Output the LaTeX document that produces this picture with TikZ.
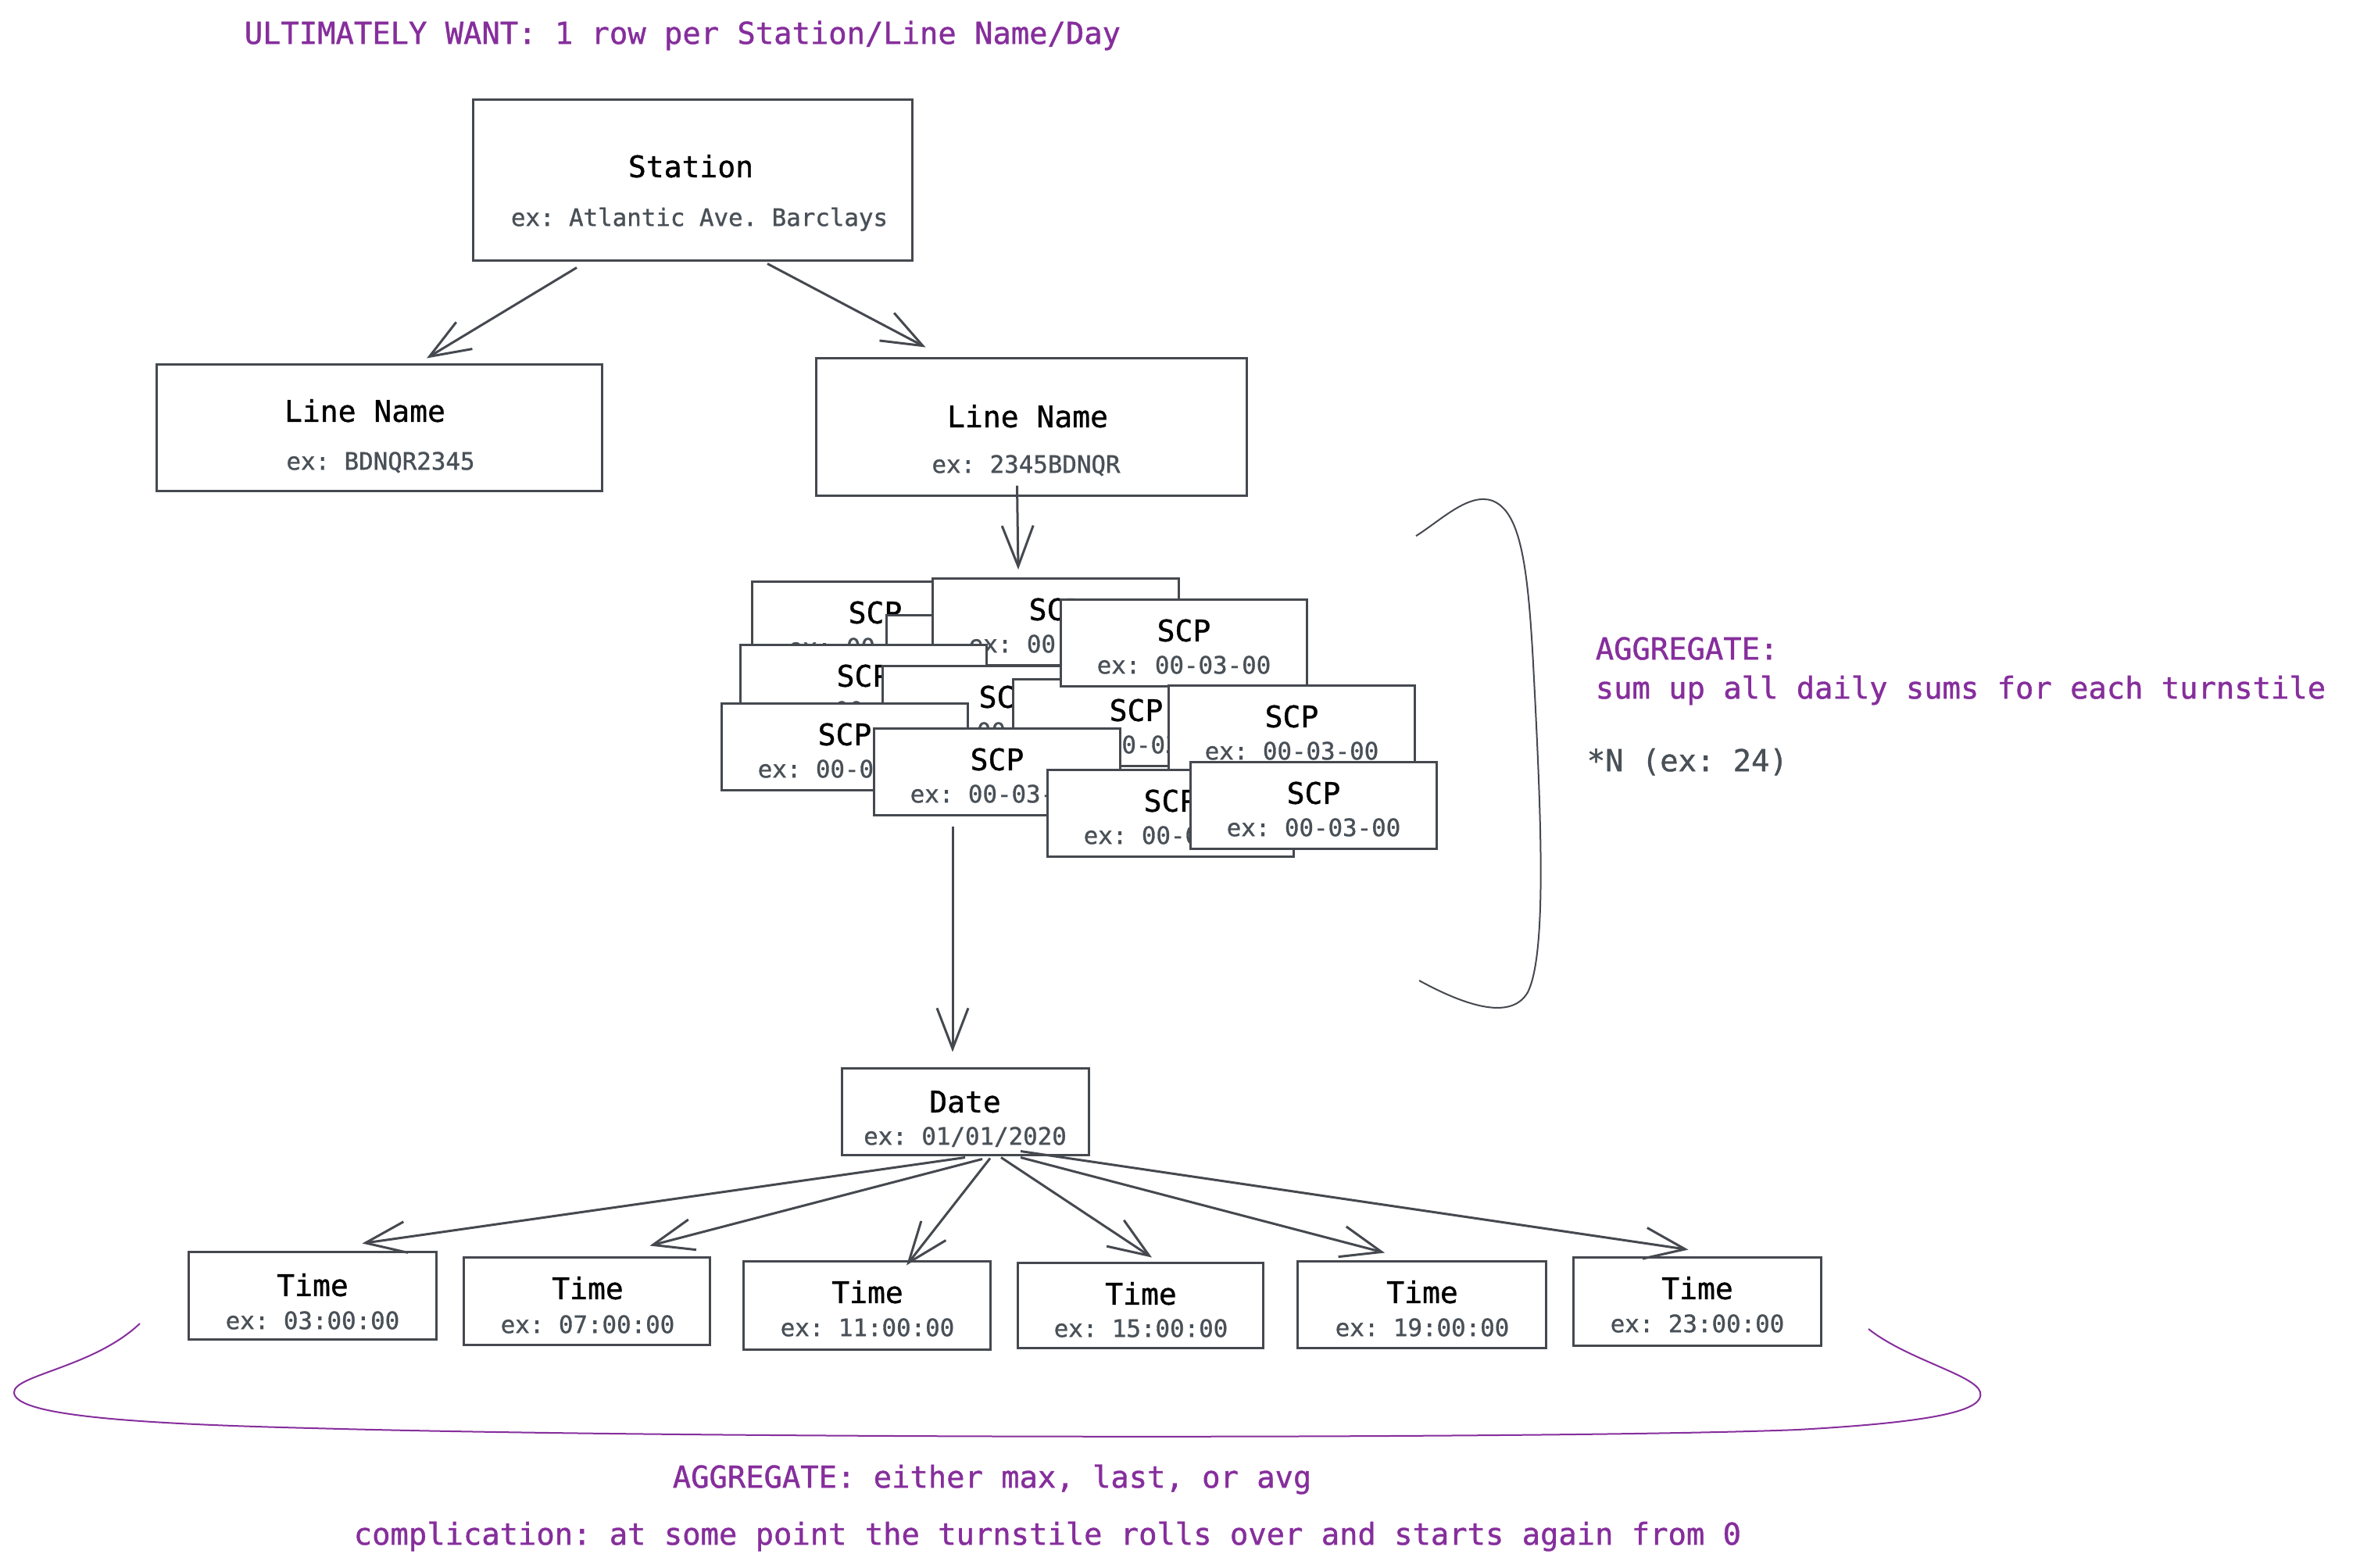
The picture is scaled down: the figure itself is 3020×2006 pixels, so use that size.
\documentclass[tikz,border=0pt]{standalone}
\usepackage{fontspec}
\setmonofont{DejaVu Sans Mono}[FakeBold=1.0]
\usetikzlibrary{arrows.meta,calc,fit}
\definecolor{ink}{HTML}{45494F}
\definecolor{extxt}{HTML}{495057}
\definecolor{vio}{HTML}{862E9C}
\tikzset{
  boxst/.style={draw=ink, line width=0.75pt, fill=white, inner sep=0pt, rectangle},
  ttl/.style={font=\ttfamily\fontsize{9.5pt}{11pt}\selectfont, text=black, inner sep=0pt, text height=6.9pt, text depth=0pt},
  exl/.style={font=\ttfamily\fontsize{7.7pt}{9pt}\selectfont, text=extxt, inner sep=0pt, text height=5.6pt, text depth=0pt},
  note/.style={font=\ttfamily\fontsize{9.7pt}{11pt}\selectfont, text=vio, inner sep=0pt, anchor=west, text height=7.1pt, text depth=0pt},
  arr/.style={draw=ink, line width=0.75pt, -{Straight Barb[length=13pt,width=10pt]}},
  brace/.style={line width=0.5pt},
}
% name, corner1, corner2, title pos, title, ex pos, ex text
\newcommand{\tbox}[7]{%
  \node[boxst, fit={(#2) (#3)}] (#1) {};
  \node[ttl] (#1-t) at (#4) {#5};
  \node[exl] (#1-e) at (#6) {#7};
}
\newcommand{\scpbox}[2]{%
  \node[boxst, anchor=north west, minimum width=78.75pt, minimum height=27.75pt] (#1) at (#2) {};
  \node[ttl] (#1-t) at ($(#1.north)+(0,41)$) {SCP};
  \node[exl] (#1-e) at ($(#1.north)+(0,85)$) {ex: 00-03-00};
}
\begin{document}
\begin{tikzpicture}[x=0.25pt, y=-0.25pt]
\useasboundingbox (0,0) rectangle (3020,2006);
\fill[white] (0,0) rectangle (3020,2006);

% title
\node[note] (title) at (312,42) {ULTIMATELY WANT: 1 row per Station/Line Name/Day};

% top boxes
\tbox{station}{605,127}{1167,333}{884,213}{Station}{895,278}{ex: Atlantic Ave. Barclays}
\tbox{lnL}{200,466}{770,628}{467,526}{Line Name}{487,590}{ex: BDNQR2345}
\tbox{lnR}{1044,458}{1595,634}{1315,533}{Line Name}{1313,594}{ex: 2345BDNQR}

% SCP cluster (back to front)
\scpbox{scpA}{961,743}
\scpbox{scpE}{1133,786}
\scpbox{scpB}{1192,739}
\scpbox{scpC}{946,824}
\scpbox{scpD}{1128,851}
\scpbox{scpF}{1295,868}
\scpbox{scpG}{922,899}
\scpbox{scpH}{1117,931}
\scpbox{scpI}{1356,766}
\scpbox{scpJ}{1494,876}
\scpbox{scpK}{1339,984}
\scpbox{scpL}{1522,974}

% date and times
\tbox{date}{1077,1367}{1393,1478}{1235,1410}{Date}{1235,1454}{ex: 01/01/2020}
\tbox{t1}{241,1602}{558,1714}{400,1645}{Time}{400,1690}{ex: 03:00:00}
\tbox{t2}{593,1609}{908,1721}{752,1649}{Time}{752,1695}{ex: 07:00:00}
\tbox{t3}{951,1614}{1267,1727}{1110,1654}{Time}{1110,1699}{ex: 11:00:00}
\tbox{t4}{1302,1616}{1616,1725}{1460,1656}{Time}{1460,1700}{ex: 15:00:00}
\tbox{t5}{1660,1614}{1978,1725}{1820,1654}{Time}{1820,1699}{ex: 19:00:00}
\tbox{t6}{2013,1609}{2330,1722}{2172,1649}{Time}{2172,1694}{ex: 23:00:00}

% arrows
\draw[arr] ($(station.south)+(-148,8)$) -- ($(lnL.north)+(61,-6)$);
\draw[arr] ($(station.south)+(96,3)$) -- ($(lnR.north)+(-135,-12)$);
\draw[arr] ($(lnR.south)+(-18,-14)$) -- ($(scpB.north)+(-48,-10)$);
\draw[arr] ($(scpH.south)+(-57,13)$) -- ($(date.north)+(-16,-19)$);
\draw[arr] ($(date.south)+(0,2)$) -- ($(t1.north)+(64,-9)$);
\draw[arr] ($(date.south)+(22,4)$) -- ($(t2.north)+(81,-13)$);
\draw[arr] ($(date.south)+(32,3)$) -- ($(t3.north)+(51,7)$);
\draw[arr] ($(date.south)+(46,2)$) -- ($(t4.north)+(15,-5)$);
\draw[arr] ($(date.south)+(71,2)$) -- ($(t5.north)+(-47,-9)$);
\draw[arr] ($(date.south)+(71,-6)$) -- ($(t6.north)+(-11,-8)$);

% right brace
\draw[brace, draw=ink] (1812,686) .. controls (1845,665) and (1880,630) .. (1910,641)
  .. controls (1945,655) and (1955,720) .. (1962,850)
  .. controls (1972,1040) and (1980,1220) .. (1955,1270)
  .. controls (1935,1305) and (1880,1290) .. (1816,1255);

\node[note] (agg1) at (2041,830) {AGGREGATE:};
\node[note] (agg2) at (2041,880) {sum up all daily sums for each turnstile};
\node[note, text=extxt] (nn) at (2030,973) {*N (ex: 24)};

% bottom brace
\draw[brace, draw=vio] (179,1694) .. controls (120,1750) and (18,1760) .. (18,1782)
  .. controls (18,1810) and (150,1822) .. (400,1828)
  .. controls (900,1842) and (2000,1842) .. (2300,1830)
  .. controls (2480,1820) and (2540,1805) .. (2534,1782)
  .. controls (2528,1760) and (2440,1740) .. (2391,1701);

\node[note] (agg3) at (860,1890) {AGGREGATE: either max, last, or avg};
\node[note] (compl) at (452,1963) {complication: at some point the turnstile rolls over and starts again from 0};
\end{tikzpicture}
\end{document}
